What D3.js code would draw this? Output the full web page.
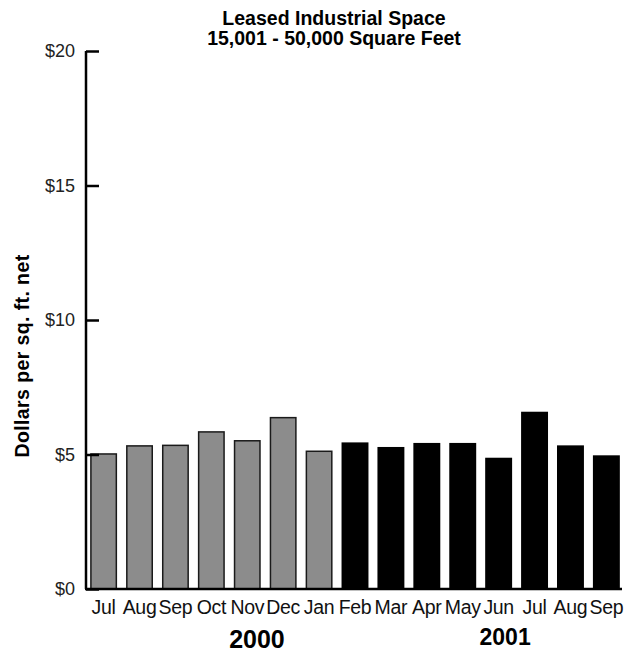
<!DOCTYPE html>
<html>
<head>
<meta charset="utf-8">
<script src="https://cdn.jsdelivr.net/npm/d3@7"></script>
<style>
  html, body { margin: 0; padding: 0; background: #fff; }
  svg { display: block; }
</style>
</head>
<body>
<svg id="chart" width="624" height="653"></svg>
<script>
// ---- data ----
const titleLines = ["Leased Industrial Space", "15,001 - 50,000 Square Feet"];
const months = ["Jul", "Aug", "Sep", "Oct", "Nov", "Dec", "Jan", "Feb", "Mar", "Apr", "May", "Jun", "Jul", "Aug", "Sep"];
const values = [5.02, 5.32, 5.34, 5.84, 5.51, 6.37, 5.12, 5.45, 5.28, 5.43, 5.43, 4.88, 6.59, 5.34, 4.97];
const series = ["2000", "2000", "2000", "2000", "2000", "2000", "2000", "2001", "2001", "2001", "2001", "2001", "2001", "2001", "2001"];
const yTicks = [0, 5, 10, 15, 20];
const yLabel = "Dollars per sq. ft. net";
const yearLabels = ["2000", "2001"];
const yearAnchorIndex = [4, 11];
const yearShift = [0.27, 0.18];

// ---- layout ----
const svg = d3.select("#chart");
const font = "'Liberation Sans', Arial, Helvetica, sans-serif";
const colors = { "2000": "#8c8c8c", "2001": "#000000" };

const idx = months.map((m, i) => i);
const x = d3.scaleBand().domain(idx).range([88, 622]).paddingInner(0.25).paddingOuter(0.06);
const y = d3.scaleLinear().domain([0, 20]).range([589, 51]);

// title
svg.append("g").selectAll("text").data(titleLines).join("text")
  .attr("x", 334)
  .attr("y", (d, i) => 25 + i * 20)
  .attr("text-anchor", "middle")
  .attr("font-family", font)
  .attr("font-weight", "bold")
  .attr("font-size", 19.5)
  .attr("fill", "#000")
  .text(d => d);

// bars
svg.append("g").selectAll("rect").data(idx).join("rect")
  .attr("x", i => x(i) + (series[i] === "2000" ? 0.75 : 0))
  .attr("y", i => y(values[i]))
  .attr("width", i => x.bandwidth() - (series[i] === "2000" ? 1.5 : 0))
  .attr("height", i => y(0) - y(values[i]))
  .attr("fill", i => colors[series[i]])
  .attr("stroke", i => series[i] === "2000" ? "#1a1a1a" : "none")
  .attr("stroke-width", 1.5);

// y axis
const yAxis = svg.append("g")
  .attr("transform", "translate(86,0)")
  .call(d3.axisLeft(y).tickValues(yTicks).tickSize(-13).tickPadding(11).tickFormat(d => "$" + d));
yAxis.select(".domain").attr("stroke", "#000").attr("stroke-width", 2.5)
  .attr("d", `M0,${y(20)}V${y(0)}`);
yAxis.selectAll(".tick line").attr("stroke", "#000").attr("stroke-width", 2.5);
yAxis.selectAll(".tick text")
  .attr("font-family", font).attr("font-size", 18).attr("fill", "#222");

// x axis
const xAxis = svg.append("g")
  .attr("transform", `translate(0,${y(0)})`)
  .call(d3.axisBottom(x).tickSize(0).tickPadding(11).tickFormat(i => months[i]));
xAxis.select(".domain").attr("stroke", "#000").attr("stroke-width", 2.5)
  .attr("d", "M85,0H622");
xAxis.selectAll(".tick text")
  .attr("font-family", font).attr("font-size", 19.5).attr("letter-spacing", -0.3).attr("fill", "#111");

// year labels
svg.append("g").selectAll("text").data(yearLabels).join("text")
  .attr("x", (d, k) => x(yearAnchorIndex[k]) + x.bandwidth() / 2 + yearShift[k] * x.step())
  .attr("y", (d, k) => k === 0 ? 648 : 645)
  .attr("text-anchor", "middle")
  .attr("font-family", font)
  .attr("font-weight", "bold")
  .attr("font-size", (d, k) => k === 0 ? 25 : 23)
  .attr("fill", "#000")
  .text(d => d);

// y label
svg.append("text")
  .attr("transform", "translate(29,356) rotate(-90)")
  .attr("text-anchor", "middle")
  .attr("font-family", font)
  .attr("font-weight", "bold")
  .attr("font-size", 19.5)
  .attr("letter-spacing", 0.4)
  .attr("fill", "#000")
  .text(yLabel);
</script>
</body>
</html>
